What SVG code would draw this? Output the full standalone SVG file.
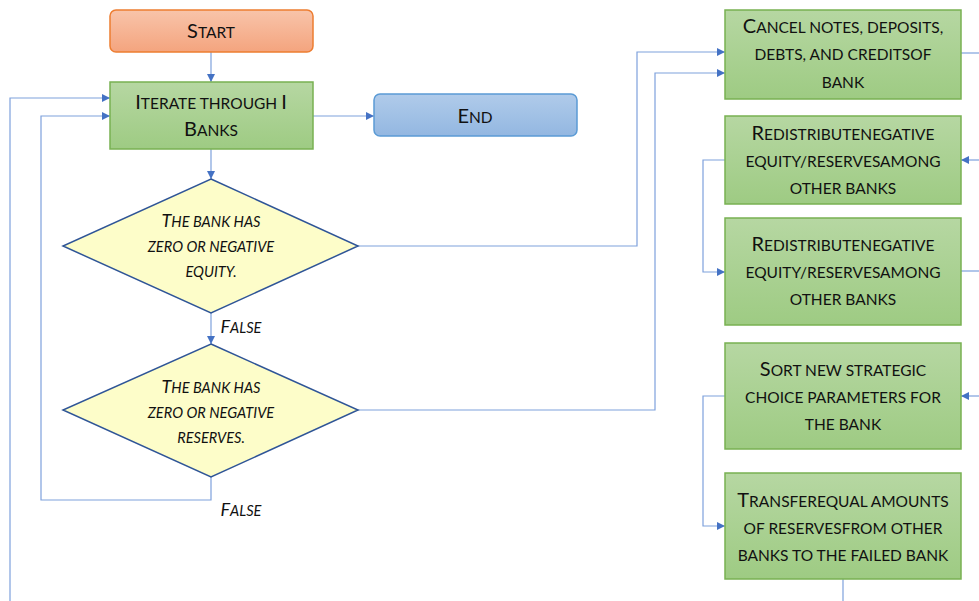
<svg xmlns="http://www.w3.org/2000/svg" width="979" height="601" viewBox="0 0 979 601">
<style>
.t{font-family:Lato,"Open Sans","Liberation Sans",sans-serif;text-transform:uppercase;fill:#111;text-anchor:middle}
.b{font-size:15.5px}
.b .L{font-size:20px}
.d{font-size:14.6px;font-style:italic}
.d .L{font-size:18px}
.g{fill:url(#gg);stroke:#78b152;stroke-width:1.5}
.c{fill:none;stroke:#7ea1dc;stroke-width:1.2}
.a{marker-end:url(#ah)}
</style>
<defs>
<linearGradient id="gg" x1="0" y1="0" x2="0" y2="1"><stop offset="0" stop-color="#b6d7a2"/><stop offset="1" stop-color="#9ecb83"/></linearGradient>
<linearGradient id="og" x1="0" y1="0" x2="0" y2="1"><stop offset="0" stop-color="#f8c4aa"/><stop offset="1" stop-color="#f4a47e"/></linearGradient>
<linearGradient id="bg" x1="0" y1="0" x2="0" y2="1"><stop offset="0" stop-color="#b0cbea"/><stop offset="1" stop-color="#93b7e1"/></linearGradient>
<marker id="ah" viewBox="0 0 10 10" refX="10" refY="5" markerWidth="8" markerHeight="8" markerUnits="userSpaceOnUse" orient="auto"><path d="M0,0L10,5L0,10z" fill="#4472c4"/></marker>
</defs>
<g id="connectors">
<path class="c a" d="M211,52V82"/>
<path class="c a" d="M211,149V179"/>
<path class="c a" d="M211,313V344"/>
<path class="c a" d="M211,477V500H41V116H110"/>
<path class="c a" d="M10,601V98H110"/>
<path class="c a" d="M313,116H374"/>
<path class="c a" d="M358,246H637V52H725"/>
<path class="c a" d="M358,410H655V73H725"/>
<path class="c" d="M961,53H979"/>
<path class="c a" d="M979,160H961"/>
<path class="c a" d="M725,160H703V272H725"/>
<path class="c" d="M961,271H979"/>
<path class="c a" d="M979,396H961"/>
<path class="c a" d="M725,396H703V526H725"/>
<path class="c" d="M843,579V601"/>
<text class="t d" x="241" y="333"><tspan class="L">F</tspan>alse</text>
<text class="t d" x="241" y="516"><tspan class="L">F</tspan>alse</text>
</g>
<g id="start">
<rect x="110" y="10" width="203" height="42" rx="6" fill="url(#og)" stroke="#ed7d31" stroke-width="1.5"/>
<text class="t b" x="211" y="38"><tspan class="L">S</tspan>tart</text>
</g>
<g id="iterate">
<rect class="g" x="110" y="82" width="203" height="67"/>
<text class="t b" x="211" y="109"><tspan class="L">I</tspan>terate through <tspan class="L">I</tspan></text>
<text class="t b" x="211" y="136"><tspan class="L">B</tspan>anks</text>
</g>
<g id="end">
<rect x="374" y="94" width="203" height="42" rx="6" fill="url(#bg)" stroke="#5b9bd5" stroke-width="1.5"/>
<text class="t b" x="475" y="123"><tspan class="L">E</tspan>nd</text>
</g>
<g id="d1">
<path d="M211,179L358,246L211,313L63,246Z" fill="#fdfdc9" stroke="#2f5597" stroke-width="1.5"/>
<text class="t d" x="211" y="227"><tspan class="L">T</tspan>he bank has</text>
<text class="t d" x="211" y="252">zero or negative</text>
<text class="t d" x="211" y="277">equity.</text>
</g>
<g id="d2">
<path d="M211,344L358,410L211,477L63,410Z" fill="#fdfdc9" stroke="#2f5597" stroke-width="1.5"/>
<text class="t d" x="211" y="393"><tspan class="L">T</tspan>he bank has</text>
<text class="t d" x="211" y="418">zero or negative</text>
<text class="t d" x="211" y="443">reserves.</text>
</g>
<g id="cancel">
<rect class="g" x="725" y="10" width="236" height="89"/>
<text class="t b" x="843" y="33"><tspan class="L">C</tspan>ancel notes, deposits,</text>
<text class="t b" x="843" y="60">debts, and creditsof</text>
<text class="t b" x="843" y="88">bank</text>
</g>
<g id="redist1">
<rect class="g" x="725" y="116" width="236" height="88"/>
<text class="t b" x="843" y="140"><tspan class="L">R</tspan>edistributenegative</text>
<text class="t b" x="843" y="167">equity/reservesamong</text>
<text class="t b" x="843" y="194">other banks</text>
</g>
<g id="redist2">
<rect class="g" x="725" y="218" width="236" height="107"/>
<text class="t b" x="843" y="251"><tspan class="L">R</tspan>edistributenegative</text>
<text class="t b" x="843" y="278">equity/reservesamong</text>
<text class="t b" x="843" y="305">other banks</text>
</g>
<g id="sort">
<rect class="g" x="725" y="343" width="236" height="106"/>
<text class="t b" x="843" y="376"><tspan class="L">S</tspan>ort new strategic</text>
<text class="t b" x="843" y="403">choice parameters for</text>
<text class="t b" x="843" y="430">the bank</text>
</g>
<g id="transfer">
<rect class="g" x="725" y="473" width="236" height="106"/>
<text class="t b" x="843" y="507"><tspan class="L">T</tspan>ransferequal amounts</text>
<text class="t b" x="843" y="534">of reservesfrom other</text>
<text class="t b" x="843" y="561">banks to the failed bank</text>
</g>
</svg>
